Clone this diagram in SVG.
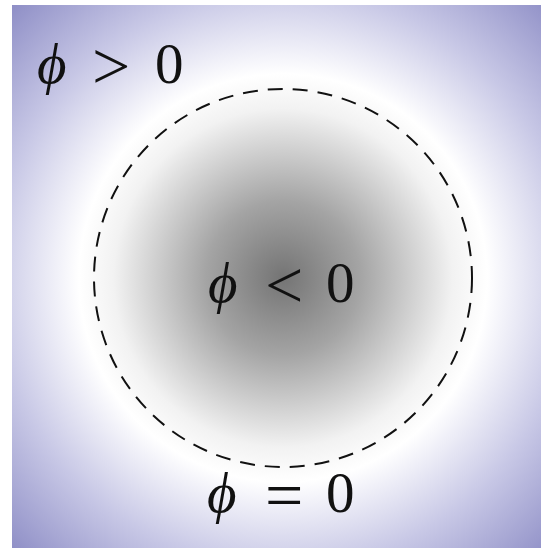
<svg xmlns="http://www.w3.org/2000/svg" width="541" height="548" viewBox="0 0 541 548">
<defs>
<radialGradient id="bg" gradientUnits="userSpaceOnUse" cx="283" cy="278" r="385">
<stop offset="0" stop-color="#747474"/>
<stop offset="0.2" stop-color="#a4a4a4"/>
<stop offset="0.44" stop-color="#f2f2f2"/>
<stop offset="0.53" stop-color="#ffffff"/>
<stop offset="0.75" stop-color="#c8c8e6"/>
<stop offset="1" stop-color="#8e8ec6"/>
</radialGradient>
</defs>
<style>
.lbl{font-family:"Liberation Serif","Times New Roman",serif;font-size:57px;fill:#111}
.it{font-style:italic}
.rel{font-size:68px}
</style>
<rect x="0" y="0" width="541" height="548" fill="#ffffff"/>
<rect id="domain" x="12" y="5" width="529" height="543" fill="url(#bg)"/>
<g id="connectors">
<circle id="boundary" cx="283" cy="278" r="189" fill="none" stroke="#111" stroke-width="2" stroke-dasharray="15 10"/>
</g>
<g id="outside">
<text class="lbl it" x="37" y="83">ϕ</text>
<text class="lbl rel" x="92" y="89">&gt;</text>
<text class="lbl" x="155" y="83">0</text>
</g>
<g id="inside">
<text class="lbl it" x="208" y="302">ϕ</text>
<text class="lbl rel" x="265" y="308">&lt;</text>
<text class="lbl" x="326" y="302">0</text>
</g>
<g id="interface">
<text class="lbl it" x="207" y="512">ϕ</text>
<text class="lbl rel" x="265" y="518">=</text>
<text class="lbl" x="326" y="512">0</text>
</g>
</svg>
